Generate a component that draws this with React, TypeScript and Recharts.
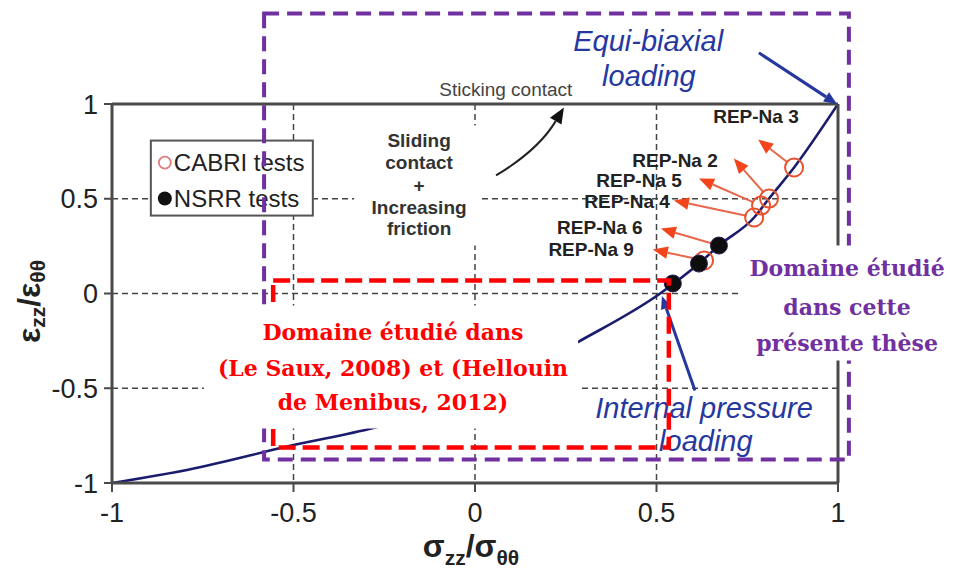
import React from 'react';
import {
  ComposedChart, Line, Scatter, XAxis, YAxis, CartesianGrid,
  ReferenceLine, ReferenceArea, ReferenceDot,
} from 'recharts';

// ---------- data ----------
const axisTicks = [-1, -0.5, 0, 0.5, 1];

const curveX = [-1, -0.79, -0.5, -0.28, 0, 0.28, 0.51, 0.617, 0.672, 0.769, 0.81, 0.879, 1];
const curveY = [-1, -0.93, -0.8, -0.71, -0.55, -0.26, 0.0, 0.158, 0.253, 0.401, 0.501, 0.665, 1];

const cabriX = [0.631, 0.769, 0.788, 0.81, 0.879];
const cabriY = [0.174, 0.401, 0.464, 0.501, 0.665];

const nsrrX = [0.545, 0.617, 0.672];
const nsrrY = [0.053, 0.158, 0.253];

const repNames = ['REP-Na 3', 'REP-Na 2', 'REP-Na 5', 'REP-Na 4', 'REP-Na 6', 'REP-Na 9'];
const repLabelX = [0.774, 0.551, 0.452, 0.419, 0.344, 0.32];
const repLabelY = [0.934, 0.702, 0.596, 0.485, 0.348, 0.232];
const repFromX = [0.879, 0.81, 0.788, 0.769, 0.672, 0.631];
const repFromY = [0.665, 0.501, 0.464, 0.401, 0.253, 0.174];
const repTipX = [0.78, 0.713, 0.617, 0.548, 0.512, 0.49];
const repTipY = [0.813, 0.712, 0.607, 0.491, 0.343, 0.232];

const blueLines = ['Equi-biaxial', 'loading', 'Internal pressure', 'loading'];
const blueLineX = [0.477, 0.479, 0.631, 0.636];
const blueLineY = [1.335, 1.15, -0.602, -0.776];
const blueFromX = [0.782, 0.606];
const blueFromY = [1.27, -0.512];
const blueToX = [0.997, 0.515];
const blueToY = [1.0, -0.013];

const slidingLines = ['Sliding', 'contact', '+', 'Increasing', 'friction'];
const slidingX = -0.154;
const slidingY = [0.807, 0.691, 0.57, 0.454, 0.343];
const slidingBoxX = [-0.333, 0.017];
const slidingBoxY = [0.253, 0.887];

const stickingText = 'Sticking contact';
const stickingPos = [0.085, 1.077];
const stickingArrowFrom = [0.058, 0.623];
const stickingArrowTo = [0.245, 0.982];

const legendItems = ['CABRI tests', 'NSRR tests'];
const legendCorner = [-0.893, 0.807];

const purpleRectX = [-0.581, 1.03];
const purpleRectY = [-0.876, 1.478];
const redRectX = [-0.556, 0.534];
const redRectY = [-0.813, 0.069];

const redLines = ['Domaine étudié dans', '(Le Saux, 2008) et (Hellouin', 'de Menibus, 2012)'];
const redLineX = -0.226;
const redLineY = [-0.201, -0.391, -0.575];
const redBoxX = [-0.747, 0.284];
const redBoxY = [-0.712, -0.063];

const purpleLines = ['Domaine étudié', 'dans cette', 'présente thèse'];
const purpleLineX = 1.025;
const purpleLineY = [0.132, -0.069, -0.259];
const purpleBoxX = [0.733, 1.32];
const purpleBoxY = [-0.354, 0.253];

// ---------- derived tables ----------
const curveData = curveX.map((x, i) => ({ x, y: curveY[i] }));
const cabriData = cabriX.map((x, i) => ({ x, y: cabriY[i] }));
const nsrrData = nsrrX.map((x, i) => ({ x, y: nsrrY[i] }));

// ---------- styles ----------
const SANS = '"Liberation Sans", Arial, sans-serif';
const SERIF = '"DejaVu Serif", serif';
const FRAME = '#4a4a4a';
const PURPLE = '#7030a0';
const RED = '#ff0000';
const BLUE = '#2638a0';

function textShape(txt: string, o: { size: number; fill: string; weight?: any; italic?: boolean; family?: string }) {
  return (p: any) => (
    <text
      x={p.cx}
      y={p.cy}
      textAnchor="middle"
      dominantBaseline="central"
      fontSize={o.size}
      fontWeight={o.weight ?? 'normal'}
      fontStyle={o.italic ? 'italic' : 'normal'}
      fontFamily={o.family ?? SANS}
      fill={o.fill}
    >
      {txt}
    </text>
  );
}

function arrowShape(o: { line: string; head: string; width: number; size: number; shorten?: number; bend?: number }) {
  return (p: any) => {
    const { x1, y1, x2, y2 } = p;
    const dx = x2 - x1;
    const dy = y2 - y1;
    const L = Math.hypot(dx, dy) || 1;
    const ux = dx / L;
    const uy = dy / L;
    const sh = o.shorten ?? 0;
    const sx = x1 + ux * sh;
    const sy = y1 + uy * sh;
    const bend = o.bend ?? 0;
    const mx = (sx + x2) / 2;
    const my = (sy + y2) / 2;
    const cx = mx - uy * bend;
    const cy = my + ux * bend;
    let tx = bend ? x2 - cx : ux;
    let ty = bend ? y2 - cy : uy;
    const tl = Math.hypot(tx, ty) || 1;
    tx /= tl;
    ty /= tl;
    const bx = x2 - tx * o.size;
    const by = y2 - ty * o.size;
    const hw = o.size * 0.42;
    const d = bend ? `M${sx},${sy} Q${cx},${cy} ${bx},${by}` : `M${sx},${sy} L${bx},${by}`;
    return (
      <g>
        <path d={d} stroke={o.line} strokeWidth={o.width} fill="none" />
        <polygon
          points={`${x2},${y2} ${bx - ty * hw},${by + tx * hw} ${bx + ty * hw},${by - tx * hw}`}
          fill={o.head}
        />
      </g>
    );
  };
}

const legendShape = (p: any) => {
  const x = p.cx;
  const y = p.cy;
  return (
    <g>
      <rect x={x} y={y} width={162} height={75} fill="#fff" stroke="#555" strokeWidth={2} />
      <circle cx={x + 14} cy={y + 22} r={6} fill="none" stroke="#e07c7c" strokeWidth={1.8} />
      <text x={x + 23} y={y + 22} dominantBaseline="central" fontSize={24} fontFamily={SANS} fill="#222">
        {legendItems[0]}
      </text>
      <circle cx={x + 14} cy={y + 58} r={7} fill="#111" />
      <text x={x + 23} y={y + 58} dominantBaseline="central" fontSize={24} fontFamily={SANS} fill="#222">
        {legendItems[1]}
      </text>
    </g>
  );
};

const YLabel = (props: any) => {
  const vb = props.viewBox || {};
  const cx = vb.x - 3;
  const cy = vb.y + vb.height / 2 + 8;
  return (
    <text
      x={cx}
      y={cy}
      transform={`rotate(-90, ${cx}, ${cy})`}
      textAnchor="middle"
      dominantBaseline="central"
      fontFamily={SANS}
      fontWeight="bold"
      fontSize={32}
      fill="#222"
    >
      ε<tspan fontSize={21} dy={8}>zz</tspan>
      <tspan dy={-8}>/ε</tspan>
      <tspan fontSize={21} dy={8}>θθ</tspan>
    </text>
  );
};

const XLabel = (props: any) => {
  const vb = props.viewBox || {};
  const cx = vb.x + vb.width / 2 - 4;
  const cy = vb.y + 74;
  return (
    <text x={cx} y={cy} textAnchor="middle" fontFamily={SANS} fontWeight="bold" fontSize={32} fill="#222">
      σ<tspan fontSize={21} dy={8}>zz</tspan>
      <tspan dy={-8}>/σ</tspan>
      <tspan fontSize={21} dy={8}>θθ</tspan>
    </text>
  );
};

const fmt = (v: number) => String(v);

export default function App() {
  return (
    <div style={{ position: 'absolute', left: 0, top: 0, background: '#fff', fontFamily: SANS }}>
      <ComposedChart
        width={953}
        height={574}
        margin={{ top: 104, right: 115, bottom: 41, left: 32 }}
      >
        <CartesianGrid stroke="#444" strokeWidth={1.5} strokeDasharray="6 4" zIndex={-100} />
        <XAxis
          type="number"
          dataKey="x"
          domain={[-1, 1]}
          ticks={axisTicks}
          allowDataOverflow
          tickFormatter={fmt}
          height={50}
          tickSize={9}
          tickMargin={11}
          tick={{ fontSize: 27, fill: '#222', fontFamily: SANS }}
          axisLine={{ stroke: FRAME, strokeWidth: 3 }}
          tickLine={{ stroke: FRAME, strokeWidth: 2 }}
          label={{ content: XLabel } as any}
          zIndex={150}
        />
        <YAxis
          type="number"
          dataKey="y"
          domain={[-1, 1]}
          ticks={axisTicks}
          allowDataOverflow
          tickFormatter={fmt}
          width={80}
          tickSize={8}
          tickMargin={6}
          tick={{ fontSize: 27, fill: '#222', fontFamily: SANS }}
          axisLine={{ stroke: FRAME, strokeWidth: 3 }}
          tickLine={{ stroke: FRAME, strokeWidth: 2 }}
          label={{ content: YLabel } as any}
          zIndex={150}
        />
        <ReferenceLine y={1} stroke={FRAME} strokeWidth={3} ifOverflow="visible" zIndex={150} />
        <ReferenceLine x={1} stroke={FRAME} strokeWidth={3} ifOverflow="visible" zIndex={150} />

        {/* white background behind sliding text */}
        <ReferenceArea
          x1={slidingBoxX[0]} x2={slidingBoxX[1]} y1={slidingBoxY[0]} y2={slidingBoxY[1]}
          fill="#fff" fillOpacity={1} stroke="none" ifOverflow="visible" zIndex={50}
        />

        <Line
          data={curveData}
          dataKey="y"
          type="monotone"
          stroke="#1c1c6e"
          strokeWidth={2.6}
          dot={false}
          activeDot={false}
          isAnimationActive={false}
          zIndex={100}
        />

        {/* blue loading arrows */}
        {blueFromX.map((x, i) => (
          <ReferenceLine
            key={'ba' + i}
            segment={[{ x, y: blueFromY[i] }, { x: blueToX[i], y: blueToY[i] }]}
            ifOverflow="visible"
            shape={arrowShape({ line: BLUE, head: BLUE, width: 3, size: 13 })}
            zIndex={200}
          />
        ))}

        {/* sticking contact arrow */}
        <ReferenceLine
          segment={[
            { x: stickingArrowFrom[0], y: stickingArrowFrom[1] },
            { x: stickingArrowTo[0], y: stickingArrowTo[1] },
          ]}
          ifOverflow="visible"
          shape={arrowShape({ line: '#222', head: '#111', width: 2, size: 16, bend: 12 })}
          zIndex={200}
        />

        {/* red arrows */}
        {repNames.map((n, i) => (
          <ReferenceLine
            key={'ra' + n}
            segment={[{ x: repFromX[i], y: repFromY[i] }, { x: repTipX[i], y: repTipY[i] }]}
            ifOverflow="visible"
            shape={arrowShape({ line: '#e8674c', head: '#f2451c', width: 2, size: 15, shorten: 8 })}
            zIndex={250}
          />
        ))}

        <Scatter
          data={cabriData}
          dataKey="y"
          isAnimationActive={false}
          zIndex={300}
          shape={(p: any) => <circle cx={p.cx} cy={p.cy} r={9} fill="none" stroke="#e8502e" strokeWidth={2} />}
        />
        <Scatter
          data={nsrrData}
          dataKey="y"
          isAnimationActive={false}
          zIndex={310}
          shape={(p: any) => <circle cx={p.cx} cy={p.cy} r={8.5} fill="#0d0d0d" stroke="#2a1f55" strokeWidth={1} />}
        />

        {/* REP labels */}
        {repNames.map((n, i) => (
          <ReferenceDot
            key={'rl' + n}
            x={repLabelX[i]}
            y={repLabelY[i]}
            r={0}
            ifOverflow="visible"
            shape={textShape(n, { size: 19, fill: '#222', weight: 'bold' })}
            zIndex={400}
          />
        ))}

        {/* sliding text */}
        {slidingLines.map((t, i) => (
          <ReferenceDot
            key={'sl' + i}
            x={slidingX}
            y={slidingY[i]}
            r={0}
            ifOverflow="visible"
            shape={textShape(t, { size: 19, fill: '#333', weight: 'bold' })}
            zIndex={400}
          />
        ))}

        <ReferenceDot
          x={stickingPos[0]}
          y={stickingPos[1]}
          r={0}
          ifOverflow="visible"
          shape={textShape(stickingText, { size: 19, fill: '#444' })}
          zIndex={400}
        />

        {blueLines.map((t, i) => (
          <ReferenceDot
            key={'bl' + i}
            x={blueLineX[i]}
            y={blueLineY[i]}
            r={0}
            ifOverflow="visible"
            shape={textShape(t, { size: 29, fill: BLUE, italic: true })}
            zIndex={400}
          />
        ))}

        {/* legend */}
        <ReferenceDot
          x={legendCorner[0]}
          y={legendCorner[1]}
          r={0}
          ifOverflow="visible"
          shape={legendShape}
          zIndex={450}
        />

        {/* study domain frames */}
        <ReferenceArea
          x1={purpleRectX[0]} x2={purpleRectX[1]} y1={purpleRectY[0]} y2={purpleRectY[1]}
          fill="none" stroke={PURPLE} strokeWidth={4} strokeDasharray="15 8"
          ifOverflow="visible" zIndex={600}
        />
        <ReferenceArea
          x1={redRectX[0]} x2={redRectX[1]} y1={redRectY[0]} y2={redRectY[1]}
          fill="none" stroke={RED} strokeWidth={4.5} strokeDasharray="17 7"
          ifOverflow="visible" zIndex={650}
        />

        {/* white text boxes */}
        <ReferenceArea
          x1={redBoxX[0]} x2={redBoxX[1]} y1={redBoxY[0]} y2={redBoxY[1]}
          fill="#fff" fillOpacity={1} stroke="none" ifOverflow="visible" zIndex={700}
        />
        <ReferenceArea
          x1={purpleBoxX[0]} x2={purpleBoxX[1]} y1={purpleBoxY[0]} y2={purpleBoxY[1]}
          fill="#fff" fillOpacity={1} stroke="none" ifOverflow="visible" zIndex={700}
        />

        {redLines.map((t, i) => (
          <ReferenceDot
            key={'rt' + i}
            x={redLineX}
            y={redLineY[i]}
            r={0}
            ifOverflow="visible"
            shape={textShape(t, { size: 22, fill: RED, weight: 'bold', family: SERIF })}
            zIndex={800}
          />
        ))}
        {purpleLines.map((t, i) => (
          <ReferenceDot
            key={'pt' + i}
            x={purpleLineX}
            y={purpleLineY[i]}
            r={0}
            ifOverflow="visible"
            shape={textShape(t, { size: 22, fill: PURPLE, weight: 'bold', family: SERIF })}
            zIndex={800}
          />
        ))}
      </ComposedChart>
    </div>
  );
}
